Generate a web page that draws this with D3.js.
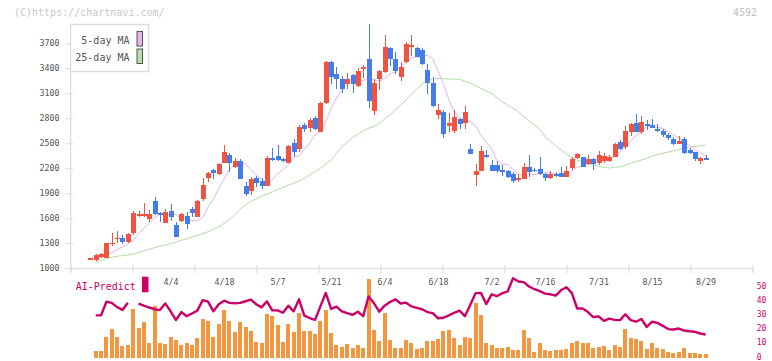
<!DOCTYPE html>
<html><head><meta charset="utf-8">
<script src="https://cdn.jsdelivr.net/npm/d3@7"></script>
<style>body{margin:0;background:#fff}svg{display:block}</style>
</head><body>
<svg id="chart" width="772" height="361"></svg>
<script>
// ---------------- data ----------------
const tickerCode = "4592";
const watermark = "(C)https://chartnavi.com/";
const dateLabels = ["4/4","4/18","5/7","5/21","6/4","6/18","7/2","7/16","7/31","8/15","8/29"];
const dateLabelIndex = [15,25,35,45,55,65,75,85,95,105,115];
const priceTicks = [1000,1300,1600,1900,2200,2500,2800,3100,3400,3700];
const aiTicks = [0,10,20,30,40,50];

const openP = [1120,
 1094,1132,1125,1290,1348,1366,1318,1425,1622,1625,
 1592,1808,1660,1548,1688,1520,1572,1628,1716,1620,
 1832,2084,2180,2132,2268,2360,2220,2288,1988,1932,
 2088,2052,1992,2320,2348,2312,2268,2500,2428,2720,
 2688,2808,2640,2980,3480,3328,3268,3208,3320,3192,
 3388,3512,2888,3272,3360,3648,3512,3300,3480,3668,
 3640,3620,3380,3228,2840,2880,2712,2648,2792,2748,
 2436,2120,2172,2360,2240,2240,2180,2168,2132,2060,
 2072,2220,2180,2192,2132,2080,2132,2148,2100,2208,
 2328,2332,2248,2312,2260,2288,2292,2340,2520,2460,
 2640,2748,2640,2732,2720,2672,2648,2600,2552,2496,
 2552,2420,2392,2292,2320];
const highP = [1122,
 1168,1188,1305,1420,1448,1400,1428,1685,1688,1788,
 1700,1856,1680,1708,1772,1556,1660,1676,1740,1820,
 2084,2150,2188,2260,2480,2388,2320,2308,2036,2100,
 2108,2088,2348,2440,2480,2320,2480,2552,2720,2748,
 2800,2832,2995,3492,3492,3420,3308,3340,3328,3408,
 3440,3932,3272,3380,3800,3660,3600,3480,3720,3800,
 3660,3640,3452,3300,2972,2900,2868,2900,2800,2948,
 2492,2252,2468,2420,2300,2288,2240,2180,2160,2132,
 2260,2360,2200,2340,2140,2172,2160,2220,2228,2340,
 2380,2340,2360,2320,2408,2388,2360,2500,2540,2708,
 2748,2852,2828,2780,2792,2728,2668,2628,2572,2588,
 2572,2440,2400,2340,2360];
const lowP = [1118,
 1088,1120,1118,1265,1308,1295,1300,1400,1615,1615,
 1560,1640,1560,1545,1570,1378,1560,1472,1610,1615,
 1812,2040,2068,2120,2260,2150,2200,2070,1868,1880,
 1980,1952,1990,2290,2290,2270,2265,2332,2390,2632,
 2632,2660,2632,2968,3212,3152,3108,3152,3108,3180,
 3280,2928,2840,3140,3340,3432,3332,3252,3460,3548,
 3530,3440,3092,2932,2788,2560,2640,2628,2668,2676,
 2370,1992,2170,2320,2165,2148,2112,2080,2028,2040,
 2068,2100,2150,2120,2052,2075,2100,2095,2095,2180,
 2310,2215,2235,2180,2240,2260,2280,2330,2420,2428,
 2588,2638,2608,2660,2680,2640,2580,2540,2480,2490,
 2372,2372,2290,2252,2300];
const closeP = [1120,
 1158,1170,1300,1305,1368,1318,1412,1668,1650,1648,
 1648,1650,1636,1672,1620,1380,1650,1535,1668,1812,
 2000,2148,2140,2252,2392,2268,2288,2072,1892,2068,
 2020,1990,2320,2295,2300,2282,2468,2400,2692,2668,
 2776,2668,2988,3480,3300,3272,3152,3272,3212,3368,
 3420,3008,3224,3368,3656,3508,3372,3420,3692,3676,
 3540,3448,3220,2948,2900,2612,2748,2812,2732,2880,
 2376,2168,2408,2330,2172,2168,2160,2100,2052,2088,
 2220,2160,2162,2128,2080,2132,2112,2100,2168,2312,
 2368,2220,2312,2248,2360,2345,2340,2492,2428,2648,
 2732,2640,2756,2712,2688,2648,2600,2568,2492,2528,
 2388,2388,2312,2328,2305];
const ma5 = [null,
 1120,1135,1150,1190,1225,1260,1292,1341,1414,1483,
 1539,1605,1653,1646,1651,1645,1592,1592,1571,1571,
 1609,1733,1833,1954,2070,2186,2240,2268,2254,2182,
 2118,2068,2008,2058,2139,2185,2237,2333,2349,2428,
 2502,2601,2641,2758,2916,3042,3142,3238,3295,3242,
 3255,3285,3256,3246,3278,3335,3353,3426,3465,3530,
 3534,3540,3555,3515,3366,3211,3026,2886,2804,2761,
 2757,2710,2594,2513,2432,2291,2249,2248,2186,2130,
 2114,2124,2124,2136,2152,2150,2132,2123,2118,2165,
 2212,2234,2276,2292,2302,2297,2321,2357,2393,2451,
 2528,2588,2641,2698,2706,2689,2681,2643,2599,2567,
 2515,2473,2422,2389,2344];
const ma25 = [null,
 1072,1095,1115,1130,1145,1152,1160,1170,1190,1210,
 1228,1248,1265,1280,1295,1315,1335,1355,1375,1395,
 1415,1440,1468,1500,1540,1585,1640,1710,1760,1800,
 1835,1865,1890,1915,1945,1970,2000,2020,2045,2080,
 2120,2160,2200,2250,2300,2380,2460,2510,2570,2610,
 2650,2680,2700,2740,2790,2840,2900,2960,3020,3090,
 3150,3210,3250,3270,3278,3275,3272,3270,3268,3245,
 3225,3190,3160,3130,3100,3050,3000,2960,2920,2880,
 2820,2770,2720,2670,2580,2520,2470,2420,2370,2325,
 2295,2280,2260,2240,2225,2210,2205,2210,2218,2235,
 2260,2280,2300,2320,2345,2365,2380,2395,2410,2425,
 2440,2455,2462,2470,2478];
const volume = [null,
 7.3,7.3,21.3,29.3,21.3,12.3,13.3,49.3,30.3,36.3,
 15.3,52.3,15.3,14.3,21.3,18.3,13.3,15.3,13.3,20.3,
 39.3,37.3,21.3,34.3,48.3,37.3,26.3,36.3,31.3,27.3,
 16.3,15.3,44.3,42.3,33.3,16.3,34.3,26.3,45.3,27.3,
 27.3,24.3,37.3,48.3,25.3,13.3,11.3,14.3,10.3,13.3,
 10.3,79.3,28.3,17.3,45.3,18.3,10.3,10.3,18.3,15.3,
 9.7,10.3,17.3,17.3,19.3,27.3,28.3,20.3,13.3,21.3,
 20.3,55.3,43.3,15.3,13.3,10.3,10.3,11.3,8.3,8.3,
 28.3,20.3,6.3,15.3,8.3,7.3,8.3,8.3,9.3,15.3,
 17.3,15.3,15.3,10.3,11.3,12.3,8.3,13.3,11.3,29.3,
 20.3,19.3,17.3,9.3,15.3,10.3,9.3,6.3,5.3,6.3,
 10.3,5.3,5.3,4.3,4.3];
const aiPredict = [null,
 29.7,29.7,39.3,38.5,35.5,33.5,38.5,null,38,36.5,
 35.2,34,33.4,38.1,32.5,26.4,32,29.1,31,33,
 40.4,39.3,32.5,37.5,40,38.5,38.1,38.5,39.6,40.8,
 37.5,35.3,39.5,33.2,33.2,31.5,36.5,32.5,41,29.5,
 27.8,26.5,36,45.5,34.2,35.8,32.5,31.2,30,32.2,
 29.1,43,38.3,32.3,36.5,39,41,38,38.6,36,
 35,34,32,31.2,27.6,28,29.7,31.5,33,29.1,
 37,45.3,45.5,37.6,44.5,43.2,45.3,46.5,55.8,53.5,
 53.1,50,48.1,46.8,45,44.5,43.6,47.5,49.5,45.3,
 34.5,34.6,32,28.5,29,25.8,27.4,26.5,26.3,30.5,
 26.3,25.2,27.1,21.5,25.2,24.4,22.3,20,19.7,20.4,
 19,18.5,18.1,16.9,16.2];

// ---------------- drawing ----------------
const FONT = "'DejaVu Sans Mono', 'Liberation Mono', monospace";
const UP = "#f25340", DOWN = "#427dea";
const svg = d3.select("#chart");

const x = d3.scaleLinear().domain([-3.75, 123.73]).range([70.3, 752.3]);
const y = d3.scaleLinear().domain([1000, 4000]).range([268.3, 18.3]);
const yVol = d3.scaleLinear().domain([0, 100]).range([358.3, 258.3]);
const yAi = d3.scaleLinear().domain([0, 50]).range([357.5, 286.5]);
const idx = d3.range(openP.length);

// watermark & code
svg.append("text").attr("x", 14).attr("y", 15.5).text(watermark)
  .attr("font-family", FONT).attr("font-size", 10).attr("fill", "#c8c8c8");
svg.append("text").attr("x", 757).attr("y", 16).attr("text-anchor", "end").text(tickerCode)
  .attr("font-family", FONT).attr("font-size", 10).attr("fill", "#c0c0c0");

// x axis grid ticks (decorative, evenly spaced over the domain)
const xd = x.domain();
const gridVals = d3.range(12).map(k => xd[0] + (xd[1] - xd[0]) * k / 11);
const gx = svg.append("g").attr("transform", "translate(0,265)")
  .call(d3.axisBottom(x).tickValues(gridVals).tickSize(8).tickFormat(""));
gx.select(".domain").remove();
gx.selectAll("line").attr("stroke", "#e2e2e2").attr("stroke-width", 1.5);

// x axis line
svg.append("line").attr("x1", x(xd[0])).attr("x2", x(xd[1])).attr("y1", 268.5).attr("y2", 268.5)
  .attr("stroke", "#e2e2e2").attr("stroke-width", 1.5);
// y axis line
svg.append("line").attr("x1", 70.7).attr("x2", 70.7).attr("y1", 24).attr("y2", 273)
  .attr("stroke", "#e2e2e2").attr("stroke-width", 1.5);

// y axis
const gy = svg.append("g").attr("transform", "translate(73,0)")
  .call(d3.axisLeft(y).tickValues(priceTicks).tickSize(8).tickPadding(5.5).tickFormat(d3.format("d")));
gy.select(".domain").remove();
gy.selectAll("line").attr("stroke", "#dcdcdc");
gy.selectAll("text").attr("font-family", FONT).attr("font-size", 8.3).attr("fill", "#555");

// date labels
const gd = svg.append("g").attr("transform", "translate(0,268.3)")
  .call(d3.axisBottom(x).tickValues(dateLabelIndex).tickSize(0).tickPadding(11.2)
    .tickFormat((d, i) => dateLabels[i]));
gd.select(".domain").remove();
gd.selectAll("text").attr("font-family", FONT).attr("font-size", 8.3).attr("fill", "#555");

// moving averages (behind candles)
const lineFn = (arr, sc) => d3.line().defined(i => arr[i] != null)
  .x(i => x(i)).y(i => sc(arr[i]));
svg.append("path").attr("d", lineFn(ma25, y)(idx)).attr("fill", "none")
  .attr("stroke", "#b5dba6").attr("stroke-width", 1);
svg.append("path").attr("d", lineFn(ma5, y)(idx)).attr("fill", "none")
  .attr("stroke", "#e8b2ea").attr("stroke-width", 1);

// candles
const cg = svg.append("g").attr("shape-rendering", "crispEdges");
const cand = cg.selectAll("g").data(idx).join("g");
cand.append("line")
  .attr("x1", i => Math.round(x(i)) + 0.5).attr("x2", i => Math.round(x(i)) + 0.5)
  .attr("y1", i => y(highP[i])).attr("y2", i => y(lowP[i]))
  .attr("stroke", i => closeP[i] >= openP[i] ? UP : DOWN).attr("stroke-width", 1);
cand.append("rect")
  .attr("x", i => Math.round(x(i)) - 2).attr("width", 5)
  .attr("y", i => y(Math.max(openP[i], closeP[i])))
  .attr("height", i => Math.max(1.2, Math.abs(y(openP[i]) - y(closeP[i]))))
  .attr("fill", i => closeP[i] >= openP[i] ? UP : DOWN);

// legend
svg.append("rect").attr("x", 70.5).attr("y", 24.5).attr("width", 78).attr("height", 47)
  .attr("fill", "#fff").attr("stroke", "#dedede").attr("stroke-width", 1.5);
const legendItems = [["5-day MA", "#eab4ea", 44.3, 31.5], ["25-day MA", "#b8dcaa", 61.3, 49]];
legendItems.forEach(([t, c, ty, ry]) => {
  svg.append("text").attr("x", 129.5).attr("y", ty).attr("text-anchor", "end").text(t)
    .attr("font-family", FONT).attr("font-size", 10).attr("fill", "#555");
  svg.append("rect").attr("x", 137).attr("y", ry).attr("width", 5.5).attr("height", 14.5)
    .attr("fill", c).attr("stroke", "#555").attr("stroke-width", 1);
});

// volume bars
svg.append("g").attr("shape-rendering", "crispEdges").selectAll("rect")
  .data(idx.filter(i => volume[i] != null)).join("rect")
  .attr("x", i => Math.round(x(i)) - 2).attr("width", 4)
  .attr("y", i => yVol(volume[i])).attr("height", i => yVol(0) - yVol(volume[i]))
  .attr("fill", "#f2963f");

// AI predict line
svg.append("path").attr("d", lineFn(aiPredict, yAi)(idx)).attr("fill", "none")
  .attr("stroke", "#cc0066").attr("stroke-width", 2.4).attr("stroke-linejoin", "round");

// AI axis (right)
const ga = svg.append("g").attr("transform", "translate(754,0)")
  .call(d3.axisRight(yAi).tickValues(aiTicks).tickSize(0).tickPadding(2.7));
ga.select(".domain").remove();
ga.selectAll("text").attr("font-family", FONT).attr("font-size", 8).attr("dy", "0.2em").attr("fill", "#cc0066");

// AI legend
svg.append("text").attr("x", 75.7).attr("y", 290).text("AI-Predict")
  .attr("font-family", FONT).attr("font-size", 10).attr("fill", "#cc0066");
svg.append("rect").attr("x", 142).attr("y", 276.7).attr("width", 6.5).attr("height", 15.6)
  .attr("fill", "#cc0066");
</script>
</body></html>
